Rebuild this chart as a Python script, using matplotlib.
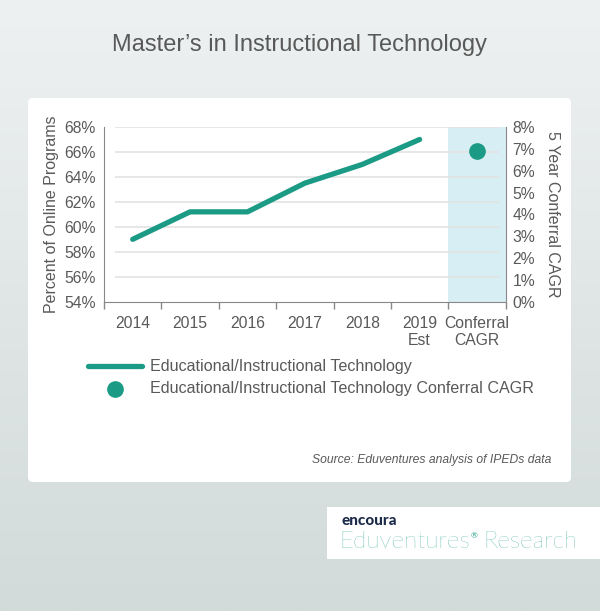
#!/usr/bin/env python
# Master's in Instructional Technology - share of online programs + conferral CAGR
import numpy as np
from matplotlib import pyplot as plt
from matplotlib.colors import LinearSegmentedColormap
from matplotlib.patches import FancyBboxPatch, Rectangle

# data
years = ['2014', '2015', '2016', '2017', '2018', '2019\nEst']
pct_online = [59.0, 61.2, 61.2, 63.5, 65.0, 67.0]
cagr_label = 'Conferral\nCAGR'
cagr_value = 6.9
line_name = 'Educational/Instructional Technology'
dot_name = 'Educational/Instructional Technology Conferral CAGR'
left_ticks = [54, 56, 58, 60, 62, 64, 66, 68]
right_ticks = [0, 1, 2, 3, 4, 5, 6, 7, 8]

TEAL = '#1b9b85'
GREY = '#595959'
plt.rcParams['font.family'] = ['Liberation Sans', 'DejaVu Sans']

fig = plt.figure(figsize=(6, 6.11), dpi=100)

# background gradient
bg = fig.add_axes([0, 0, 1, 1], zorder=-10)
grad = np.linspace(0, 1, 256)[:, None] * np.ones((1, 16))
bg.imshow(grad, cmap=LinearSegmentedColormap.from_list('bg', ['#eef1f1', '#d2dada']),
          aspect='auto', extent=[0, 1, 0, 1])
bg.set_xlim(0, 1); bg.set_ylim(0, 1)
bg.axis('off')

# white panel and logo box
bg.add_patch(FancyBboxPatch((28 / 600, 1 - 482 / 611), 543 / 600, 384 / 611,
                            boxstyle='round,pad=0,rounding_size=0.008',
                            fc='white', ec='none', transform=bg.transAxes))
bg.add_patch(Rectangle((327 / 600, 1 - 559 / 611), 273 / 600, 52 / 611,
                       fc='white', ec='none', transform=bg.transAxes))

fig.text(0.5, 1 - 45 / 611, 'Master\u2019s in Instructional Technology',
         ha='center', va='center', fontsize=17, color=GREY)

ax = fig.add_axes([104 / 600, 1 - 301.7 / 611, 401.7 / 600, 174.7 / 611])
ax.set_xlim(-0.5, len(years) + 0.5)
ax.set_ylim(left_ticks[0], left_ticks[-1])

# shaded CAGR slot
ax.axvspan(len(years) - 0.5, len(years) + 0.5, color='#d7eef4', zorder=0, lw=0)
ax.hlines(left_ticks[1:], -0.31, 6.38, color='#e3e3e3', lw=1.2, zorder=1)

xs = np.arange(len(years))
ax.plot(xs, pct_online, color=TEAL, lw=3.8, solid_capstyle='round', zorder=3)

ax.set_yticks(left_ticks)
ax.set_yticklabels([f'{v}%' for v in left_ticks])
ax.set_xticks(np.arange(-0.5, len(years) + 1, 1.0))
ax.set_xticklabels([])
ax.set_xticks(np.arange(len(years) + 1), minor=True)
ax.set_xticklabels(years + [cagr_label], minor=True)
ax.tick_params(axis='x', which='major', length=5, color='#888888', width=1)
ax.tick_params(axis='x', which='minor', length=0, pad=10, labelsize=11.3, labelcolor=GREY)
ax.tick_params(axis='y', length=0, pad=6, labelsize=11.3, labelcolor=GREY)
for s in ['top', 'right']:
    ax.spines[s].set_visible(False)
for s in ['left', 'bottom']:
    ax.spines[s].set_color('#888888')
ax.set_ylabel('Percent of Online Programs', fontsize=11.5, color=GREY, labelpad=4)

ax2 = ax.twinx()
ax2.set_ylim(right_ticks[0], right_ticks[-1])
ax2.set_yticks(right_ticks)
ax2.set_yticklabels([f'{v}%' for v in right_ticks])
ax2.tick_params(axis='y', length=0, pad=5, labelsize=11.3, labelcolor=GREY)
for s in ['top', 'left', 'bottom']:
    ax2.spines[s].set_visible(False)
ax2.spines['right'].set_color('#888888')
ax2.plot([len(years)], [cagr_value], 'o', color=TEAL, ms=11, zorder=4)
ax2.set_ylabel('5 Year Conferral CAGR', fontsize=11.5, color=GREY,
               rotation=-90, labelpad=18)

# legend drawn by hand to match layout
fig.lines.append(plt.Line2D([88 / 600, 142 / 600], [1 - 366 / 611] * 2, color=TEAL,
                            lw=3.8, solid_capstyle='round', transform=fig.transFigure))
fig.lines.append(plt.Line2D([115 / 600], [1 - 389 / 611], marker='o', color=TEAL,
                            ms=11, transform=fig.transFigure))
fig.text(150 / 600, 1 - 366 / 611, line_name, va='center', fontsize=11.6, color=GREY)
fig.text(150 / 600, 1 - 389 / 611, dot_name, va='center', fontsize=11.6, color=GREY)

fig.text(551 / 600, 1 - 460 / 611, 'Source: Eduventures analysis of IPEDs data',
         ha='right', va='center', fontsize=8.7, style='italic', color=GREY)

# logo
fig.text(341 / 600, 1 - 521 / 611, 'encoura', fontsize=11, weight='black',
         color='#1c2b4a', va='center', family=['Lato', 'DejaVu Sans'])
t1 = fig.text(339 / 600, 1 - 542 / 611, 'Eduventures', fontsize=17.5,
              color='#1f9e89', va='center', family=['Lato', 'DejaVu Sans'], weight='light')
fig.canvas.draw()
x_end = fig.transFigure.inverted().transform(t1.get_window_extent().p1)[0]
fig.text(x_end + 0.002, 1 - 536 / 611, '\u00ae', fontsize=6,
         color='#1f9e89', va='center', family=['Lato', 'DejaVu Sans'])
fig.text(x_end + 0.022, 1 - 542 / 611, 'Research', fontsize=17.5,
         color='#1f9e89', va='center', family=['Lato', 'DejaVu Sans'], weight='light')

fig.savefig('out.png', dpi=100)
